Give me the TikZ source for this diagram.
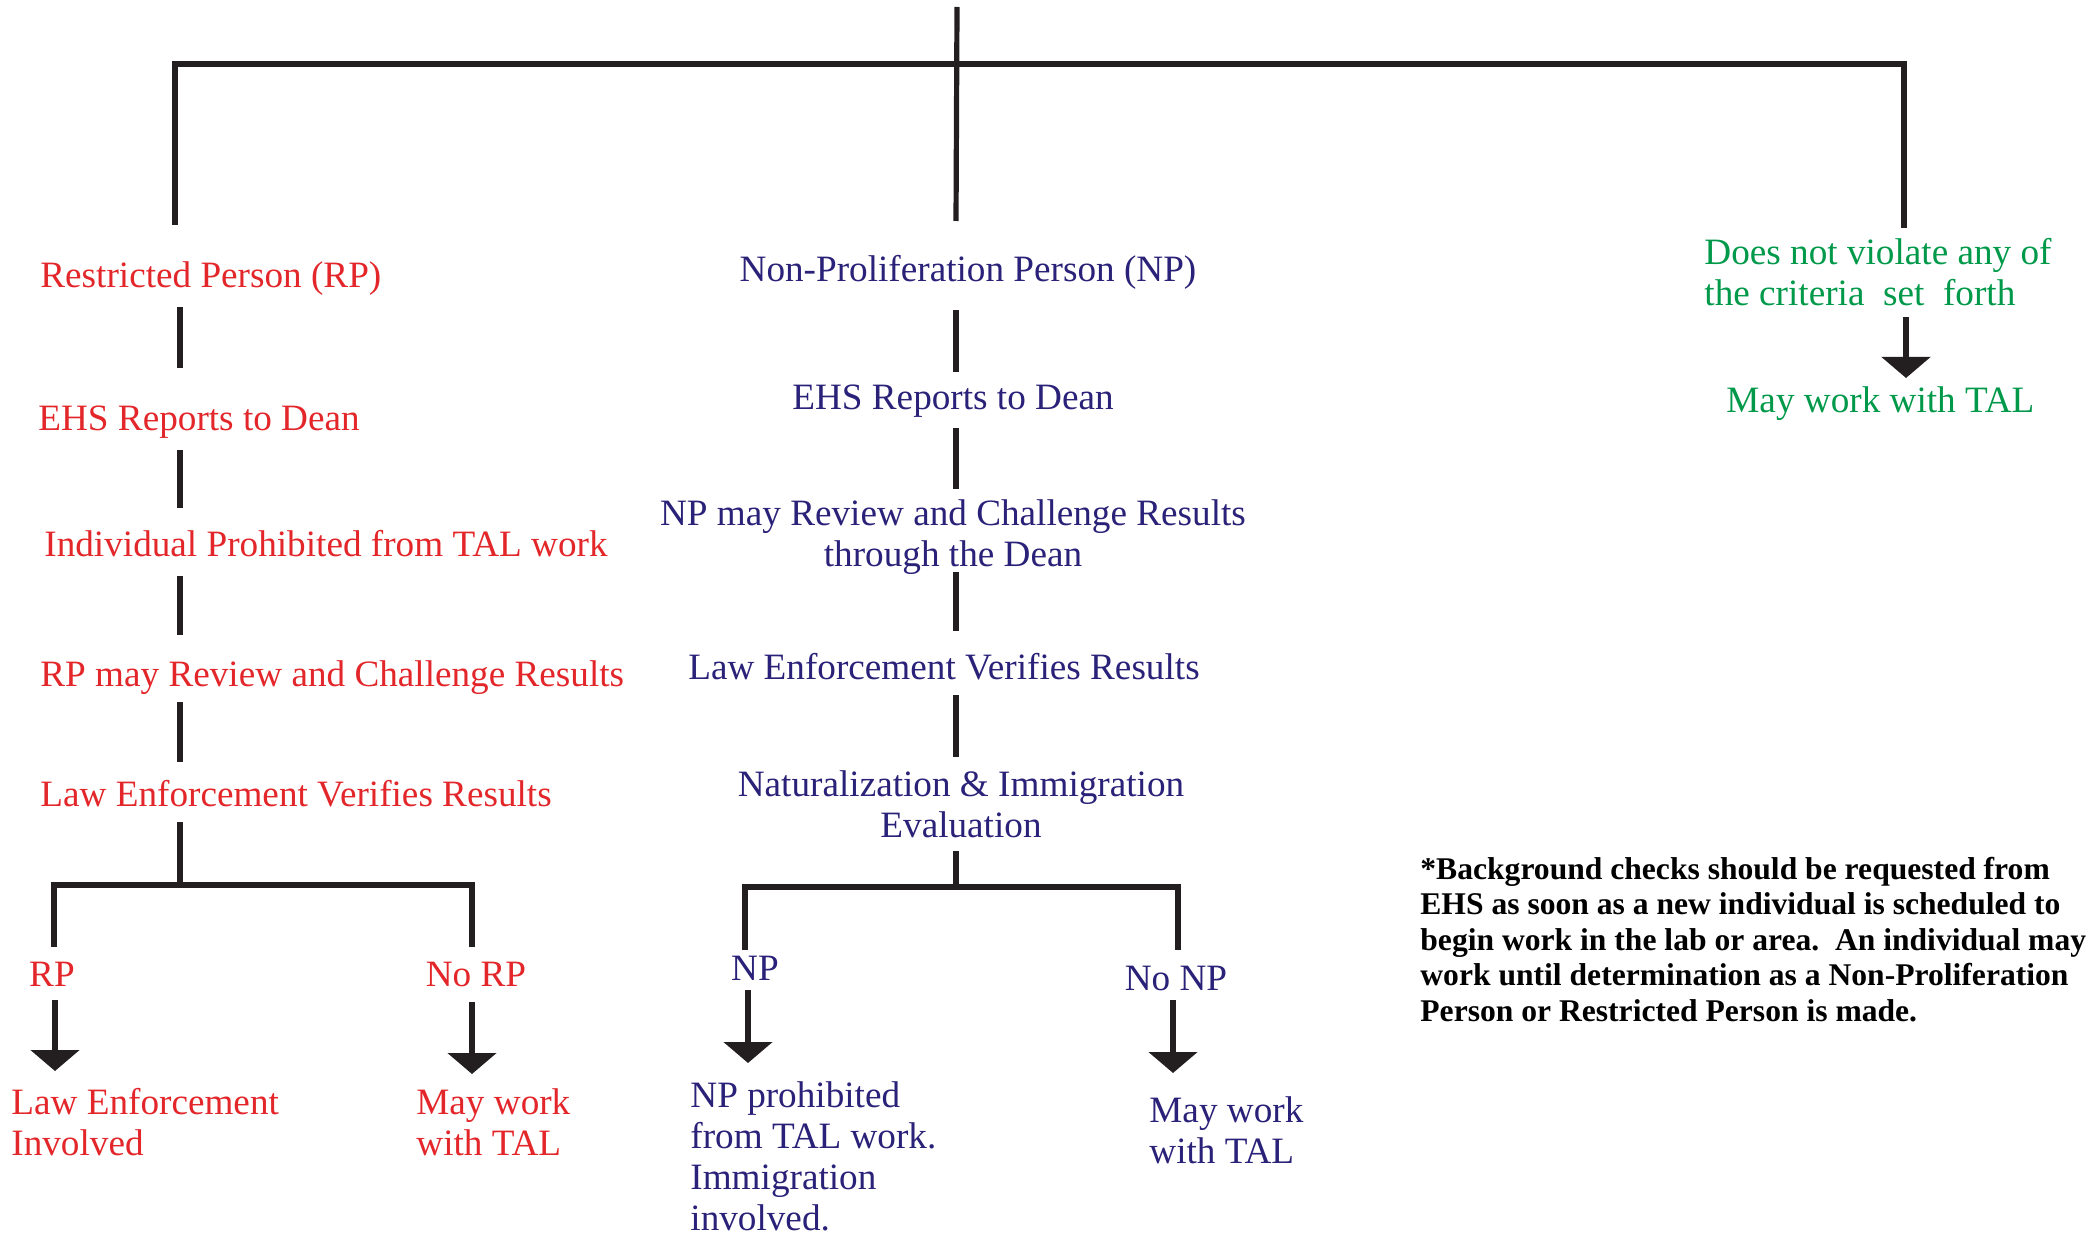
\documentclass[tikz,border=0pt]{standalone}
\usepackage{fontspec}
\setmainfont{Liberation Serif}
\usetikzlibrary{arrows.meta}
\definecolor{rpred}{HTML}{E3262A}
\definecolor{npblue}{HTML}{2A2178}
\definecolor{okgreen}{HTML}{00994A}
\definecolor{ink}{HTML}{231F20}
\begin{document}
\begin{tikzpicture}[x=0.5pt,y=-0.5pt,
  txt/.style={inner sep=0pt, font=\fontsize{18.6}{20.5}\selectfont},
  rptxt/.style={txt, text=rpred},
  nptxt/.style={txt, text=npblue},
  oktxt/.style={txt, text=okgreen},
  notetxt/.style={inner sep=0pt, text=black, align=left,
    font=\bfseries\fontsize{15.8}{17.75}\selectfont},
  conn/.style={draw=ink, line width=2.6pt},
  arr/.style={conn, -{Triangle[width=24pt,length=10.5pt]}},
]
\useasboundingbox (0,0) rectangle (2097,1235);

% column coordinates
\coordinate (cL0) at (175,0);
\coordinate (cL) at (180,0);
\coordinate (cC) at (956,0);
\coordinate (cR) at (1906,0);
\coordinate (rootTop) at (957,7);
\coordinate (jR) at (1904,64);

% (multi-line nodes are placed by the baseline of their last line)

% ---- left column (Restricted Person)
\node[rptxt, anchor=base west] (rp) at (40,288) {Restricted Person (RP)};
\node[rptxt, anchor=base west] (ehsL) at (38,430) {EHS Reports to Dean};
\node[rptxt, anchor=base west] (indiv) at (44,556) {Individual Prohibited from TAL work};
\node[rptxt, anchor=base west] (rpmay) at (40,686) {RP may Review and Challenge Results};
\node[rptxt, anchor=base west] (lawL) at (40,806) {Law Enforcement Verifies Results};
\node[rptxt, anchor=base] (rpY) at (52,986) {RP};
\node[rptxt, anchor=base] (norp) at (476,986) {No RP};
\node[rptxt, anchor=base west, align=left] (lawinv) at (11,1155) {Law Enforcement\\Involved};
\node[rptxt, anchor=base west, align=left] (mayL) at (416,1155) {May work\\with TAL};

% ---- center column (Non-Proliferation Person)
\node[nptxt, anchor=base] (np) at (968,282) {Non-Proliferation Person (NP)};
\node[nptxt, anchor=base] (ehsC) at (953,409) {EHS Reports to Dean};
\node[nptxt, anchor=base, align=center] (npmay) at (953,566) {NP may Review and Challenge Results\\through the Dean};
\node[nptxt, anchor=base] (lawC) at (944,679) {Law Enforcement Verifies Results};
\node[nptxt, anchor=base, align=center] (nat) at (961,837) {Naturalization \& Immigration\\Evaluation};
\node[nptxt, anchor=base] (npY) at (755,980) {NP};
\node[nptxt, anchor=base] (nonp) at (1176,990) {No NP};
\node[nptxt, anchor=base west, align=left] (npproh) at (690,1230) {NP prohibited\\from TAL work.\\Immigration\\involved.};
\node[nptxt, anchor=base west, align=left] (mayC) at (1149,1163) {May work\\with TAL};

% ---- right column
\node[oktxt, anchor=base west, align=left] (dnv) at (1704,306) {Does not violate any of\\the criteria\ \ set\ \ forth};
\node[oktxt, anchor=base west] (mayR) at (1726,412) {May work with TAL};

% ---- note
\node[notetxt, anchor=base west] (note) at (1420,1021) {*Background checks should be requested from\\EHS as soon as a new individual is scheduled to\\begin work in the lab or area.\ \ An individual may\\work until determination as a Non-Proliferation\\Person or Restricted Person is made.};

% ---- top frame
\draw[conn] (cC |- np.base) ++(0,-61) -- (rootTop);
\draw[conn] (cL0 |- rp.base) ++(0,-63) |- (jR) -- ++(0,164);

% ---- left chain
\draw[conn] (cL |- rp.base) ++(0,19) -- ++(0,61);
\draw[conn] (cL |- ehsL.base) ++(0,20) -- ++(0,58);
\draw[conn] (cL |- indiv.base) ++(0,20) -- ++(0,59);
\draw[conn] (cL |- rpmay.base) ++(0,16) -- ++(0,60);
\draw[conn] (cL |- lawL.base) ++(0,16) -- ++(0,63);
\draw[conn] ([shift={(2,-39)}]rpY.base) |- ([shift={(-4,-101)}]norp.base) -- ([shift={(-4,-39)}]norp.base);
\draw[arr] ([shift={(3,14)}]rpY.base) -- ++(0,71);
\draw[arr] ([shift={(-4,16)}]norp.base) -- ++(0,72);

% ---- center chain
\draw[conn] (cC |- np.base) ++(0,28) -- ++(0,62);
\draw[conn] (cC |- ehsC.base) ++(0,19) -- ++(0,61);
\draw[conn] (cC |- npmay.base) ++(0,6) -- ++(0,59);
\draw[conn] (cC |- lawC.base) ++(0,16) -- ++(0,62);
\draw[conn] (cC |- nat.base) ++(0,14) -- ++(0,36);
\draw[conn] ([shift={(-10,-30)}]npY.base) |- ([shift={(2,-103)}]nonp.base) -- ([shift={(2,-40)}]nonp.base);
\draw[arr] ([shift={(-7,10)}]npY.base) -- ++(0,73);
\draw[arr] ([shift={(-3,10)}]nonp.base) -- ++(0,73);

% ---- right chain
\draw[arr] (cR |- dnv.base) ++(0,11) -- ++(0,61);
\end{tikzpicture}
\end{document}
